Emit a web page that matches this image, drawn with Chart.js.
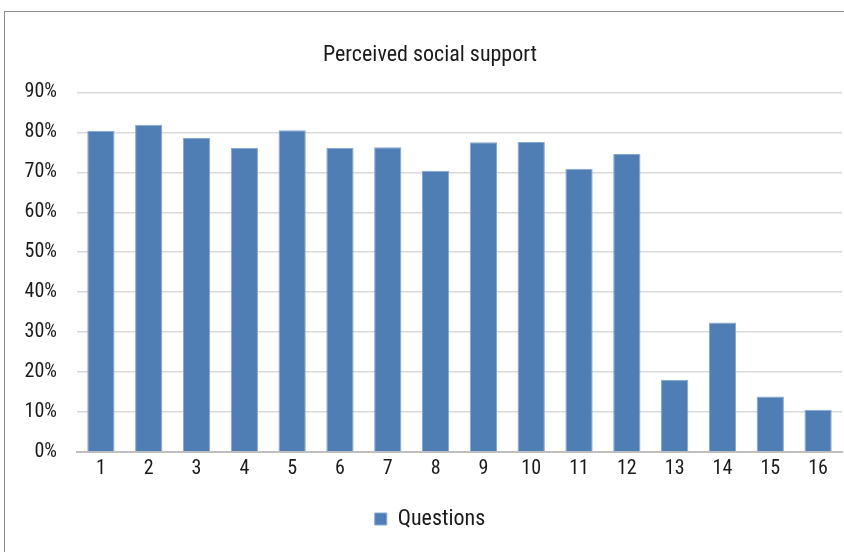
<!DOCTYPE html>
<html>
<head>
<meta charset="utf-8">
<script src="https://cdn.jsdelivr.net/npm/chart.js@4.4.1/dist/chart.umd.min.js"></script>
<style>
  html, body { margin: 0; padding: 0; background: #fff; }
  #wrap { position: relative; width: 844px; height: 552px; overflow: hidden; }
  #frame { position: absolute; left: 4px; top: 11px; width: 900px; height: 600px; border: 1px solid #8c8c8c; box-sizing: border-box; }
  #c { position: absolute; left: 0; top: 0; }
</style>
</head>
<body>
<div id="wrap">
  <div id="frame"></div>
  <canvas id="c" width="860" height="552"></canvas>
</div>
<script>
const categories = ["1","2","3","4","5","6","7","8","9","10","11","12","13","14","15","16"];
const seriesName = "Questions";
const values = [0.804, 0.819, 0.786, 0.761, 0.805, 0.761, 0.763, 0.704, 0.775, 0.776, 0.709, 0.746, 0.181, 0.324, 0.139, 0.106];
const yTicks = [0, 0.1, 0.2, 0.3, 0.4, 0.5, 0.6, 0.7, 0.8, 0.9];
const titleText = "Perceived social support";

const FONT = "'Roboto Condensed', 'Liberation Sans Narrow', sans-serif";

new Chart(document.getElementById('c'), {
  type: 'bar',
  data: {
    labels: categories,
    datasets: [{
      label: seriesName,
      data: values,
      backgroundColor: '#4f7eb5',
      borderColor: '#86a6d0',
      borderWidth: 1,
      barPercentage: 0.57,
      categoryPercentage: 1.0
    }]
  },
  options: {
    responsive: false,
    animation: false,
    devicePixelRatio: 1,
    layout: { padding: { top: 42, right: 18, bottom: 12, left: 18 } },
    plugins: {
      title: {
        display: true,
        text: titleText,
        color: '#1a1a1a',
        font: { family: FONT, size: 22, weight: 'normal' },
        padding: { top: 0, bottom: 24 }
      },
      legend: {
        display: true,
        position: 'bottom',
        labels: {
          color: '#1a1a1a',
          font: { family: FONT, size: 22 },
          boxWidth: 12,
          boxHeight: 12,
          padding: 6
        }
      },
      tooltip: { enabled: false }
    },
    scales: {
      x: {
        afterFit: (s) => { s.height = 50; },
        grid: { display: false, drawTicks: false },
        border: { display: true, color: '#bfbfbf', width: 2 },
        ticks: { color: '#1a1a1a', font: { family: FONT, size: 20 }, padding: 5, maxRotation: 0 }
      },
      y: {
        min: 0,
        max: 0.9,
        afterFit: (s) => { s.width = 59; },
        afterBuildTicks: (s) => { s.ticks = yTicks.map(v => ({ value: v })); },
        grid: { color: '#d9d9d9', lineWidth: 1.5, drawTicks: false },
        border: { display: false },
        ticks: {
          color: '#1a1a1a',
          font: { family: FONT, size: 20 },
          padding: 20,
          callback: (v) => Math.round(v * 100) + '%'
        }
      }
    }
  }
});
</script>
</body>
</html>
